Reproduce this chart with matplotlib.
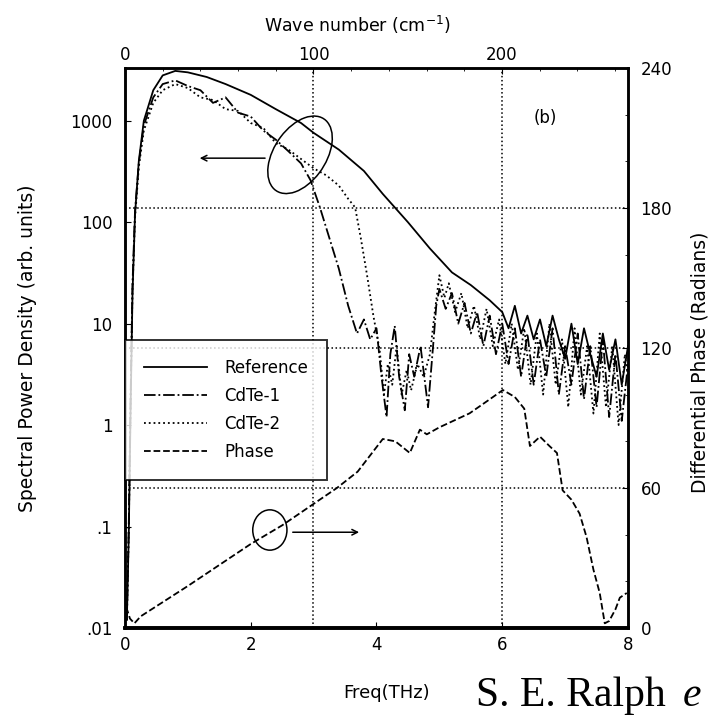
import matplotlib.pyplot as plt
import matplotlib.ticker as ticker
from matplotlib.patches import Ellipse

plt.rcParams['font.family'] = ['DejaVu Sans']

# THz -> cm^-1
THZ_TO_WN = 33.356

# Spectra (arb. units) vs frequency (THz)
ref_x = [0.03, 0.06, 0.09, 0.12, 0.16, 0.22, 0.3, 0.45, 0.6, 0.8, 1.0, 1.3, 1.6, 2.0,
         2.4, 2.8, 3.0, 3.4, 3.8, 4.1, 4.5, 4.85, 5.2, 5.5, 5.8, 6.0, 6.1, 6.2, 6.3,
         6.4, 6.5, 6.6, 6.7, 6.8, 6.9, 7.0, 7.1, 7.2, 7.3, 7.4, 7.5, 7.6, 7.7, 7.8,
         7.9, 8.0]
ref_y = [0.012, 0.08, 1.5, 20, 120, 400, 1000, 2000, 2800, 3100, 3000, 2700, 2300, 1800,
         1300, 950, 760, 520, 320, 190, 100, 55, 32, 24, 17, 13, 9, 15, 8,
         12, 7, 11, 6, 12, 7, 4.5, 10, 4, 9, 5, 3, 8, 3.5, 7,
         2.5, 6]

c1_x = [0.03, 0.06, 0.09, 0.12, 0.16, 0.22, 0.3, 0.45, 0.6, 0.8, 1.0, 1.2, 1.4, 1.6,
        1.8, 2.0, 2.2, 2.4, 2.6, 2.8, 2.95, 3.1, 3.25, 3.4, 3.55, 3.69, 3.8, 3.9,
        4.0, 4.08, 4.16, 4.22, 4.29, 4.36, 4.45, 4.52, 4.6, 4.7, 4.82, 4.9, 4.95,
        5.0, 5.1, 5.2, 5.3, 5.4, 5.5, 5.6, 5.7, 5.8, 5.9, 6.0, 6.1, 6.2, 6.3, 6.4,
        6.5, 6.6, 6.7, 6.8, 6.9, 7.0, 7.1, 7.2, 7.3, 7.4, 7.5, 7.6, 7.7, 7.8, 7.9, 8.0]
c1_y = [0.012, 0.1, 2, 25, 130, 380, 900, 1700, 2300, 2500, 2200, 2000, 1500, 1700,
        1200, 1100, 800, 650, 500, 380, 260, 140, 70, 35, 15, 8, 11, 7,
        9, 3, 1.2, 5, 9.5, 3, 1.4, 5, 3, 6, 1.5, 6, 15,
        22, 14, 20, 10, 16, 8, 13, 6, 12, 5, 10, 4, 9, 3, 8,
        2.5, 7, 3, 9, 2, 6, 2.5, 8, 1.8, 6, 1.5, 7, 1.2, 5, 1.1, 4]

c2_x = [0.03, 0.06, 0.09, 0.12, 0.16, 0.22, 0.3, 0.45, 0.6, 0.8, 1.0, 1.2, 1.4, 1.6,
        1.8, 2.0, 2.2, 2.4, 2.6, 2.8, 3.0, 3.2, 3.4, 3.55, 3.66, 3.75, 3.85, 3.95,
        4.05, 4.12, 4.18, 4.25, 4.32, 4.4, 4.48, 4.55, 4.65, 4.75, 4.85, 4.92, 5.0,
        5.08, 5.15, 5.25, 5.35, 5.45, 5.55, 5.65, 5.75, 5.85, 5.95, 6.05, 6.15, 6.25,
        6.35, 6.45, 6.55, 6.65, 6.75, 6.85, 6.95, 7.05, 7.15, 7.25, 7.35, 7.45, 7.55,
        7.65, 7.75, 7.85, 7.95, 8.0]
c2_y = [0.012, 0.09, 1.8, 22, 110, 350, 800, 1500, 2000, 2300, 2100, 1700, 1600, 1300,
        1250, 950, 850, 600, 520, 420, 340, 290, 230, 170, 140, 70, 30, 12,
        5.5, 2, 4, 2.5, 6, 2, 3.5, 2.2, 4, 3, 5, 12, 30,
        18, 25, 13, 20, 9, 15, 7, 14, 6, 11, 4, 10, 3.5,
        9, 2.5, 8, 2, 10, 2.5, 7, 1.5, 9, 2, 6, 1.3, 8,
        1.5, 6, 1.0, 5, 3]

# Differential phase vs frequency (THz)
ph_x = [0.02, 0.08, 0.15, 0.25, 1.0, 2.0, 2.5, 3.37, 3.7, 4.1, 4.3, 4.53, 4.69, 4.8,
        5.0, 5.48, 5.8, 6.01, 6.2, 6.35, 6.44, 6.6, 6.75, 6.87, 6.96, 7.1, 7.23, 7.34,
        7.45, 7.55, 7.63, 7.7, 7.8, 7.87, 7.98]
ph_y = [9, 4, 2, 5, 18, 36, 44, 60, 67, 81, 80, 75, 85, 83,
        86, 92, 98, 102, 99, 94, 78, 82, 78, 75, 59, 55, 49, 39,
        25, 15, 2, 3, 8, 13, 15]

x_ticks = [0, 2, 4, 6, 8]
wn_ticks = [0, 100, 200]
left_ticks = [0.01, 0.1, 1, 10, 100, 1000]
left_labels = ['.01', '.1', '1', '10', '100', '1000']
right_ticks = [0, 60, 120, 180, 240]

fig = plt.figure(figsize=(7.17, 7.25), dpi=100)
ax = fig.add_axes([0.1743, 0.1338, 0.7016, 0.7724])

l_ref, = ax.plot(ref_x, ref_y, color='black', lw=1.3, ls='-')
l_c1, = ax.plot(c1_x, c1_y, color='black', lw=1.3, ls='-.')
l_c2, = ax.plot(c2_x, c2_y, color='black', lw=1.3, ls=':')
ax.set_yscale('log')
ax.set_xlim(0, 8)
ax.set_ylim(0.01, 10 ** 3.52)
ax.set_xticks(x_ticks)
ax.set_yticks(left_ticks)
ax.set_yticklabels(left_labels)
ax.yaxis.set_minor_locator(ticker.NullLocator())
ax.tick_params(axis='y', direction='in', labelsize=12, length=4, pad=9)
ax.tick_params(axis='x', direction='in', labelsize=12, length=4, pad=6)
ax.set_ylabel('Spectral Power Density (arb. units)', fontsize=13.5)
ax.yaxis.set_label_coords(-0.175, 0.5)
ax.set_xlabel('Freq(THz)', fontsize=13)
ax.xaxis.set_label_coords(0.52, -0.1)

# grid lines from the top wavenumber ticks
for wn in wn_ticks[1:]:
    ax.axvline(wn / THZ_TO_WN, color='black', ls=':', lw=1.1)

ax2 = ax.twinx()
l_ph, = ax2.plot(ph_x, ph_y, color='black', lw=1.3, ls='--')
ax2.set_ylim(0, 240)
ax2.set_yticks(right_ticks)
ax2.yaxis.set_minor_locator(ticker.MultipleLocator(20))
ax2.tick_params(direction='in', labelsize=12, length=4, pad=9)
ax2.tick_params(which='minor', direction='in', length=2)
ax2.set_ylabel('Differential Phase (Radians)', fontsize=13.5)
ax2.yaxis.set_label_coords(1.125, 0.475)
for v in right_ticks[1:-1]:
    ax2.axhline(v, color='black', ls=':', lw=1.1)

top = ax.secondary_xaxis('top', functions=(lambda f: f * THZ_TO_WN,
                                           lambda w: w / THZ_TO_WN))
top.set_xticks(wn_ticks)
top.xaxis.set_minor_locator(ticker.MultipleLocator(20))
top.tick_params(direction='in', labelsize=12, length=4, pad=3)
top.tick_params(which='minor', direction='in', length=2)
fig.text(0.498, 0.966, 'Wave number (cm$^{-1}$)', fontsize=12.5, ha='center', va='center')

for a in (ax, ax2):
    for s in a.spines.values():
        s.set_linewidth(1.8)
    a.spines['bottom'].set_linewidth(2.6)

# annotations: which curves go with which axis
ax2.add_patch(Ellipse((0.348, 0.845), 0.10, 0.16, angle=-40, fill=False,
                      lw=1.1, color='black', transform=ax.transAxes))
ax2.annotate('', xy=(0.143, 0.839), xytext=(0.284, 0.839), xycoords='axes fraction',
             arrowprops=dict(arrowstyle='->', lw=1.1, color='black'))
ax2.add_patch(Ellipse((0.288, 0.175), 0.068, 0.072, fill=False,
                      lw=1.1, color='black', transform=ax.transAxes))
ax2.annotate('', xy=(0.471, 0.171), xytext=(0.328, 0.171), xycoords='axes fraction',
             arrowprops=dict(arrowstyle='->', lw=1.1, color='black'))
ax2.text(0.835, 0.91, '(b)', transform=ax.transAxes, fontsize=12, ha='center', va='center')

leg = ax2.legend([l_ref, l_c1, l_c2, l_ph], ['Reference', 'CdTe-1', 'CdTe-2', 'Phase'],
                 loc='upper left', bbox_to_anchor=(0.0, 0.514), fontsize=12,
                 handlelength=3.8, handletextpad=1.0, frameon=True, fancybox=False,
                 edgecolor='black', borderpad=1.15, labelspacing=0.6, borderaxespad=0)
leg.get_frame().set_linewidth(1.4)

# citation line under the figure (cut short in the source image)
fig.text(0.664, 0.040, 'S. E. Ralph', fontsize=30, family='Liberation Serif',
         ha='left', va='center')
fig.text(0.952, 0.040, 'e', fontsize=30, family='Liberation Serif', style='italic',
         ha='left', va='center')

fig.savefig('out.png', dpi=100)
